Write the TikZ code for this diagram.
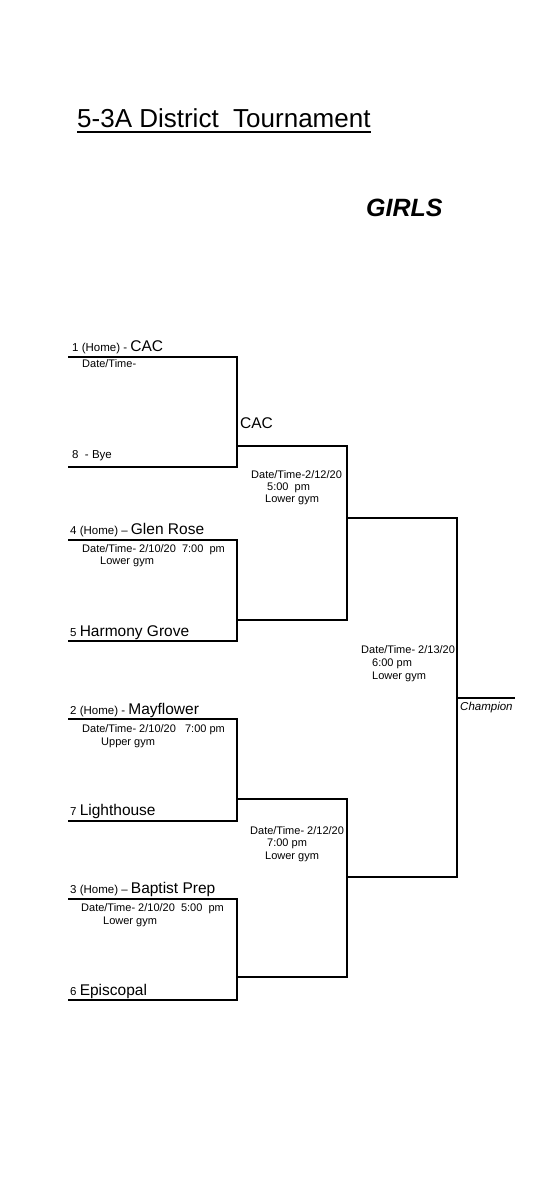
\documentclass[tikz,border=0pt]{standalone}
\usepackage{fontspec}
\setmainfont{Liberation Sans}
\newcommand{\seedtxt}[1]{{\fontsize{11.5}{13}\selectfont #1}}
\tikzset{
  team/.style={anchor=base west, inner sep=0pt, font=\fontsize{15.5}{18}\selectfont},
  info/.style={anchor=base west, inner sep=0pt, font=\fontsize{11}{13}\selectfont},
  bracket/.style={line width=1.8pt, line join=miter},
}
\begin{document}
\begin{tikzpicture}[x=1pt, y=-1pt]
  \useasboundingbox (0,0) rectangle (554,1200);
  % heading
  \node [anchor=base west, inner sep=0pt, font=\fontsize{26}{30}\selectfont] (title) at (77,127) {5-3A District\ \ Tournament};
  \draw [line width=1.6pt] ([yshift=-5pt]title.base west) -- ([yshift=-5pt]title.base east);
  \node [anchor=base west, inner sep=0pt, font=\fontsize{25}{30}\selectfont\bfseries\itshape] (girls) at (366,216) {GIRLS};
  % first round
  \draw [bracket] (68,357) -- (237,357) -- (237,467) -- (68,467);
  \draw [bracket] (68,540) -- (237,540) -- (237,641) -- (68,641);
  \draw [bracket] (68,719) -- (237,719) -- (237,821) -- (68,821);
  \draw [bracket] (68,899) -- (237,899) -- (237,1000) -- (68,1000);
  \node [team] (seed1) at (72,351) {\seedtxt{1 (Home) - }CAC};
  \node [info] (game1) at (82,367) {Date/Time-};
  \node [team] (seed8) at (72,458) {\seedtxt{8\ \ - Bye}};
  \node [team] (seed4) at (70,534) {\seedtxt{4 (Home) -- }Glen Rose};
  \node [info] (game4a) at (82,552) {Date/Time- 2/10/20\ \ 7:00\ \ pm};
  \node [info] (game4b) at (100,564) {Lower gym};
  \node [team] (seed5) at (70,636) {\seedtxt{5 }Harmony Grove};
  \node [team] (seed2) at (70,714) {\seedtxt{2 (Home) - }Mayflower};
  \node [info] (game2a) at (82,732) {Date/Time- 2/10/20\ \ \ 7:00 pm};
  \node [info] (game2b) at (101,745) {Upper gym};
  \node [team] (seed7) at (70,815) {\seedtxt{7 }Lighthouse};
  \node [team] (seed3) at (70,893) {\seedtxt{3 (Home) -- }Baptist Prep};
  \node [info] (game3a) at (81,911) {Date/Time- 2/10/20\ \ 5:00\ \ pm};
  \node [info] (game3b) at (103,924) {Lower gym};
  \node [team] (seed6) at (70,995) {\seedtxt{6 }Episcopal};
  % second round
  \draw [bracket] (237,446) -- (347,446) -- (347,620) -- (237,620);
  \draw [bracket] (237,799) -- (347,799) -- (347,977) -- (237,977);
  \node [team] (winA) at (240,428) {CAC};
  \node [info] (semiAa) at (251,478) {Date/Time-2/12/20};
  \node [info] (semiAb) at (267,490) {5:00\ \ pm};
  \node [info] (semiAc) at (265,502) {Lower gym};
  \node [info] (semiBa) at (250,834) {Date/Time- 2/12/20};
  \node [info] (semiBb) at (267,846) {7:00 pm};
  \node [info] (semiBc) at (265,859) {Lower gym};
  % final
  \draw [bracket] (347,518) -- (457,518) -- (457,877) -- (347,877);
  \draw [bracket] (457,698) -- (515,698);
  \node [info] (finala) at (361,653) {Date/Time- 2/13/20};
  \node [info] (finalb) at (372,666) {6:00 pm};
  \node [info] (finalc) at (372,679) {Lower gym};
  \node [info, font=\fontsize{11.5}{13}\selectfont\itshape] (champ) at (460,710) {Champion};
\end{tikzpicture}
\end{document}
